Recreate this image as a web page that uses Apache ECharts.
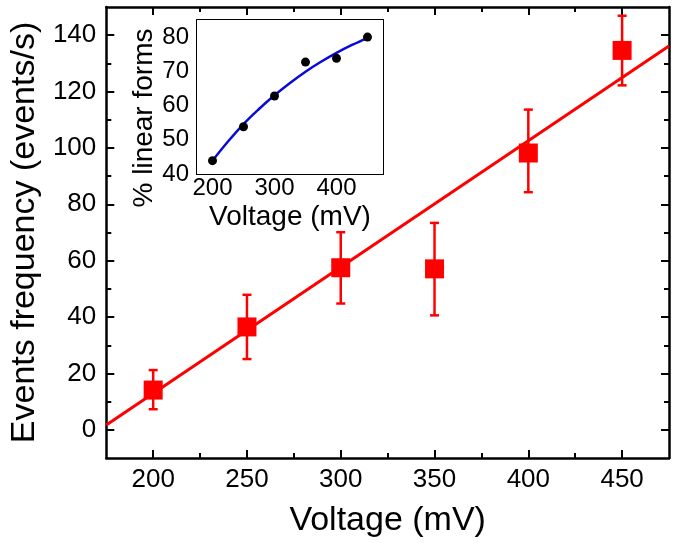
<!DOCTYPE html>
<html>
<head>
<meta charset="utf-8">
<script src="https://cdn.jsdelivr.net/npm/echarts@6/dist/echarts.min.js"></script>
<style>html,body{margin:0;padding:0;background:#fff}#c{width:677px;height:543px}</style>
</head>
<body>
<div id="c"></div>
<script>
// ---- Main plot data ----
const mainX = [200, 250, 300, 350, 400, 450];
const mainY = [14.1, 36.5, 57.5, 57.1, 98.2, 134.6];
const mainErrLow = [7.3, 25.1, 44.8, 40.6, 84.3, 122.2];
const mainErrHigh = [21.2, 47.9, 70.1, 73.4, 113.6, 146.9];
const fitLineX = [175, 475];
const fitLineY = [1.7, 136.2];
// ---- Inset data ----
const insetX = [200, 250, 300, 350, 400, 450];
const insetY = [43.9, 53.8, 62.8, 72.7, 73.8, 80.0];
const insetFitX = [200, 225, 250, 275, 300, 325, 350, 375, 400, 425, 450];
const insetFitY = [43.9, 49.5, 54.6, 59.0, 63.0, 66.6, 69.9, 72.8, 75.4, 77.7, 79.8];
// ---- Ticks ----
const mainXTicks = [200, 250, 300, 350, 400, 450];
const mainXMinor = [225, 275, 325, 375, 425];
const mainYTicks = [0, 20, 40, 60, 80, 100, 120, 140];
const mainYMinor = [10, 30, 50, 70, 90, 110, 130];
const insetXTicks = [200, 300, 400];
const insetXMinor = [225, 250, 275, 325, 350, 375, 425, 450];
const insetYTicks = [40, 50, 60, 70, 80];
const insetYMinor = [45, 55, 65, 75];

const FONT = 'Liberation Sans, Arial, sans-serif';

function boxAxes(dim, gridIndex, min, max, majors, minors, cfg) {
  const p1 = dim === 'x' ? 'bottom' : 'left';
  const p2 = dim === 'x' ? 'top' : 'right';
  const base = {type: 'value', gridIndex, min, max, splitLine: {show: false}};
  const line = {show: true, onZero: false, lineStyle: {color: '#000', width: cfg.lw}};
  const noLine = {show: false, onZero: false};
  const tick = (vals, len) => ({show: true, inside: true, length: len, customValues: vals,
    lineStyle: {color: '#000', width: cfg.tw}});
  const primary = Object.assign({}, base, {
    position: p1, axisLine: line, axisTick: tick(majors, cfg.major),
    axisLabel: {show: true, customValues: majors, margin: cfg.margin, fontSize: cfg.fs,
      color: '#000', fontFamily: FONT},
    name: cfg.name, nameLocation: 'middle', nameGap: cfg.nameGap,
    nameTextStyle: Object.assign({fontSize: cfg.nfs, color: '#000', fontFamily: FONT}, cfg.nameStyle || {})
  });
  return [
    primary,
    Object.assign({}, base, {position: p1, axisLine: noLine, axisTick: tick(minors, cfg.minor), axisLabel: {show: false}}),
    Object.assign({}, base, {position: p2, axisLine: line, axisTick: tick(majors, cfg.major), axisLabel: {show: false}}),
    Object.assign({}, base, {position: p2, axisLine: noLine, axisTick: tick(minors, cfg.minor), axisLabel: {show: false}})
  ];
}

const xAxes = [].concat(
  boxAxes('x', 0, 175, 475, mainXTicks, mainXMinor,
    {lw: 2.5, tw: 2, major: 8, minor: 5, margin: 9, fs: 26, name: 'Voltage (mV)', nameGap: 46, nfs: 34}),
  boxAxes('x', 1, 175, 475, insetXTicks, insetXMinor,
    {lw: 2, tw: 1.5, major: 5, minor: 3, margin: 2, fs: 24, name: 'Voltage (mV)', nameGap: 29, nfs: 28})
);
const yAxes = [].concat(
  boxAxes('y', 0, -10, 150, mainYTicks, mainYMinor,
    {lw: 2.5, tw: 2, major: 8, minor: 5, margin: 10, fs: 26, name: 'Events frequency (events/s)', nameGap: 63, nfs: 34}),
  boxAxes('y', 1, 40, 85, insetYTicks, insetYMinor,
    {lw: 2, tw: 1.5, major: 5, minor: 3, margin: 8, fs: 24, name: '% linear forms', nameGap: 37, nfs: 28,
     nameStyle: {padding: [0, 42, 0, 0]}})
);

const chart = echarts.init(document.getElementById('c'), null, {renderer: 'canvas'});
chart.setOption({
  animation: false,
  backgroundColor: '#fff',
  grid: [
    {left: 103, top: 7, width: 566, height: 451, containLabel: false},
    {left: 197, top: 20, width: 186, height: 154, containLabel: false, show: true,
     backgroundColor: '#fff', borderWidth: 0, z: 5}
  ],
  xAxis: xAxes,
  yAxis: yAxes,
  series: [
    {type: 'line', xAxisIndex: 0, yAxisIndex: 0, data: fitLineX.map((x, i) => [x, fitLineY[i]]),
     showSymbol: false, lineStyle: {color: '#ff0000', width: 3}, z: 2, silent: true},
    {type: 'custom', xAxisIndex: 0, yAxisIndex: 0, z: 3,
     data: mainX.map((x, i) => [x, mainErrLow[i], mainErrHigh[i]]),
     encode: {x: 0, y: [1, 2]},
     renderItem: function (params, api) {
       const x = api.value(0);
       const lo = api.coord([x, api.value(1)]);
       const hi = api.coord([x, api.value(2)]);
       const w = 4.5;
       const st = {stroke: '#ff0000', lineWidth: 2.5};
       return {type: 'group', children: [
         {type: 'line', shape: {x1: lo[0], y1: lo[1], x2: hi[0], y2: hi[1]}, style: st},
         {type: 'line', shape: {x1: lo[0] - w, y1: lo[1], x2: lo[0] + w, y2: lo[1]}, style: st},
         {type: 'line', shape: {x1: hi[0] - w, y1: hi[1], x2: hi[0] + w, y2: hi[1]}, style: st}
       ]};
     }},
    {type: 'scatter', xAxisIndex: 0, yAxisIndex: 0, z: 4, symbol: 'rect', symbolSize: 19,
     itemStyle: {color: '#ff0000', opacity: 1}, data: mainX.map((x, i) => [x, mainY[i]])},
    {type: 'line', xAxisIndex: 4, yAxisIndex: 4, z: 6, smooth: 0.4, showSymbol: false,
     lineStyle: {color: '#0a0ad8', width: 2.5},
     data: insetFitX.map((x, i) => [x, insetFitY[i]])},
    {type: 'scatter', xAxisIndex: 4, yAxisIndex: 4, z: 7, symbol: 'circle', symbolSize: 9,
     itemStyle: {color: '#000', opacity: 1}, data: insetX.map((x, i) => [x, insetY[i]])}
  ]
});
</script>
</body>
</html>
